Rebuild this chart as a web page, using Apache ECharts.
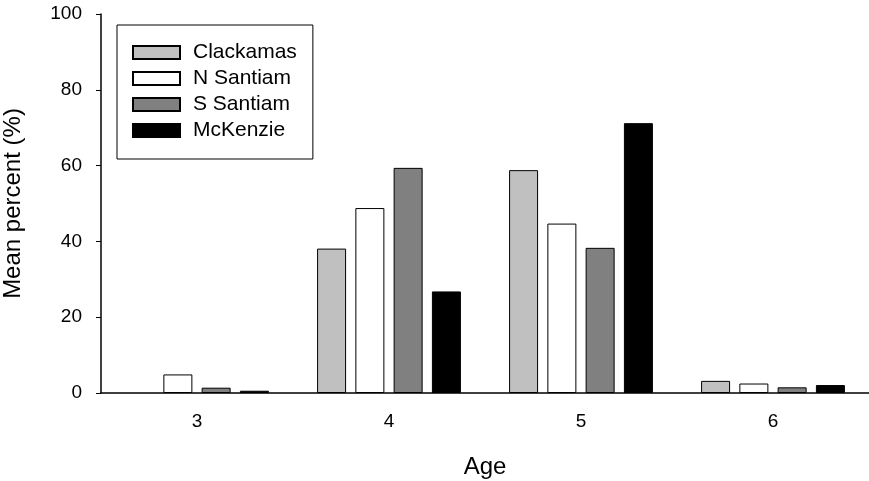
<!DOCTYPE html>
<html><head><meta charset="utf-8">
<script src="https://cdn.jsdelivr.net/npm/echarts@6/dist/echarts.min.js"></script>
<style>html,body{margin:0;padding:0;background:#fff}#c{width:869px;height:481px}</style>
</head><body><div id="c"></div>
<script>
var categories = ['3', '4', '5', '6'];
var seriesNames = ['Clackamas', 'N Santiam', 'S Santiam', 'McKenzie'];
var clackamas = [0, 38.1, 58.8, 3.2];
var nSantiam = [4.9, 48.8, 44.7, 2.5];
var sSantiam = [1.4, 59.4, 38.3, 1.5];
var mcKenzie = [0.6, 26.8, 71.2, 2.1];
var yTicks = [0, 20, 40, 60, 80, 100];

var colors = ['#c0c0c0', '#ffffff', '#808080', '#000000'];
var values = [clackamas, nSantiam, sSantiam, mcKenzie];
var font = 'Liberation Sans, Arial, sans-serif';

var chart = echarts.init(document.getElementById('c'), null, {renderer: 'canvas'});
chart.setOption({
  animation: false,
  textStyle: {fontFamily: font, color: '#000'},
  grid: {left: 101, right: 0, top: 14, bottom: 88, containLabel: false, outerBoundsMode: 'none'},
  legend: {
    orient: 'vertical', left: 117, top: 25,
    padding: [17, 16, 18, 15],
    borderColor: '#000', borderWidth: 1,
    icon: 'rect',
    itemWidth: 47, itemHeight: 13, itemGap: 5,
    textStyle: {fontSize: 21, fontFamily: font, color: '#000', padding: [0, 0, 0, 8]},
    data: seriesNames
  },
  xAxis: {
    type: 'category', data: categories,
    name: 'Age', nameLocation: 'middle', nameGap: 62,
    nameTextStyle: {fontSize: 24, fontFamily: font, color: '#000'},
    axisLine: {lineStyle: {color: '#000', width: 1.5}},
    axisTick: {alignWithLabel: true, length: 7, lineStyle: {color: '#000'}},
    axisLabel: {fontSize: 19, color: '#000', margin: 19, fontFamily: font},
    splitLine: {show: false}
  },
  yAxis: {
    type: 'value', min: 0, max: 100, interval: 20,
    name: 'Mean percent (%)', nameLocation: 'middle', nameGap: 76, nameRotate: 90,
    nameTextStyle: {fontSize: 24, fontFamily: font, color: '#000'},
    axisLine: {show: true, lineStyle: {color: '#000', width: 1.5}},
    axisTick: {show: true, length: 5, lineStyle: {color: '#000'}},
    axisLabel: {fontSize: 19, color: '#000', margin: 19, fontFamily: font,
      formatter: function (v) { return yTicks.indexOf(v) >= 0 ? String(v) : ''; }},
    splitLine: {show: false}
  },
  series: seriesNames.map(function (n, i) {
    return {
      name: n, type: 'bar',
      data: values[i].map(function (v) {
        return v === 0 ? {value: v, itemStyle: {borderWidth: 0}} : v;
      }),
      barWidth: 29, barGap: '32%',
      itemStyle: {color: colors[i], borderColor: '#000', borderWidth: 1}
    };
  })
});
</script>
</body></html>
